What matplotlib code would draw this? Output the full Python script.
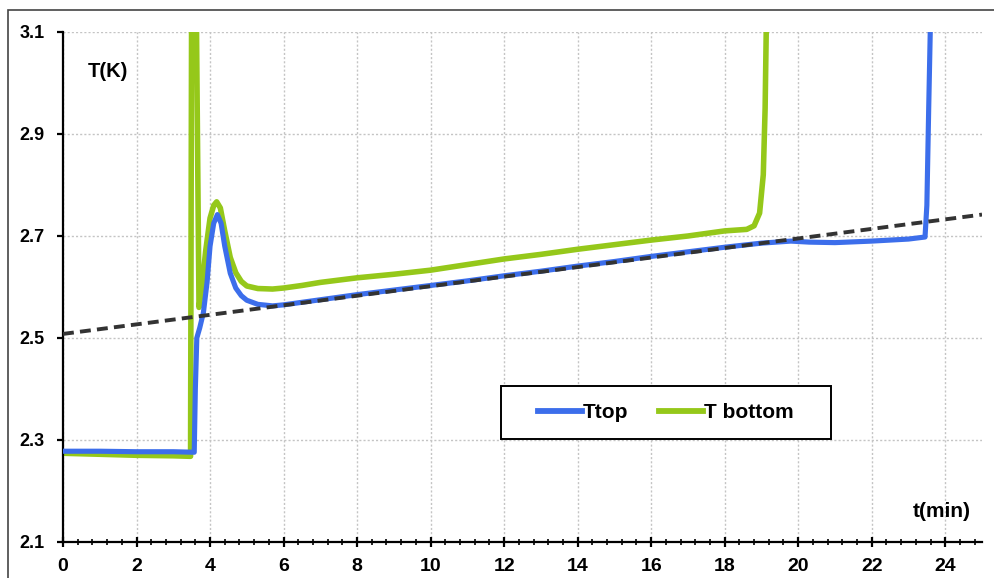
import matplotlib
matplotlib.use("Agg")
import matplotlib.pyplot as plt
from matplotlib.patches import Rectangle
from matplotlib.ticker import MultipleLocator

plt.rcParams['font.family'] = ['Liberation Sans', 'DejaVu Sans']
plt.rcParams['font.weight'] = 'bold'

# Ttop (blue)
t_top = [0, 1, 2, 3, 3.57, 3.60, 3.64, 3.72, 3.82, 3.92, 4.0, 4.1, 4.2, 4.3, 4.4,
         4.55, 4.7, 4.85, 5.0, 5.3, 5.7, 6.0, 7, 8, 9, 10, 11, 12, 13, 14, 15,
         16, 17, 18, 19, 19.8, 20.3, 21, 22, 23, 23.45, 23.5, 23.55, 23.62]
T_top = [2.278, 2.278, 2.277, 2.277, 2.276, 2.40, 2.50, 2.52, 2.55, 2.61, 2.68, 2.725,
         2.742, 2.725, 2.68, 2.627, 2.598, 2.583, 2.574, 2.566, 2.563, 2.565, 2.575,
         2.585, 2.594, 2.603, 2.612, 2.622, 2.631, 2.641, 2.650, 2.660, 2.669, 2.678,
         2.686, 2.690, 2.688, 2.687, 2.690, 2.694, 2.698, 2.76, 2.95, 3.2]

# T bottom (green)
t_bot = [0, 1, 2, 3, 3.47, 3.50, 3.62, 3.70, 3.78, 3.88, 4.0, 4.1, 4.18, 4.28, 4.4,
         4.55, 4.7, 4.85, 5.0, 5.3, 5.7, 6.0, 6.5, 7, 8, 9, 10, 11, 12, 13, 14, 15,
         16, 17, 18, 18.6, 18.8, 18.95, 19.05, 19.1, 19.15]
T_bot = [2.274, 2.272, 2.270, 2.269, 2.268, 3.2, 3.2, 2.56, 2.60, 2.67, 2.735, 2.760,
         2.767, 2.755, 2.71, 2.658, 2.628, 2.611, 2.602, 2.597, 2.596, 2.598, 2.603,
         2.609, 2.618, 2.625, 2.633, 2.644, 2.655, 2.664, 2.674, 2.683, 2.692, 2.700,
         2.710, 2.713, 2.720, 2.745, 2.82, 2.95, 3.2]

# linear fit (dashed)
t_fit = [0, 25]
T_fit = [2.508, 2.742]

x_ticks = [0, 2, 4, 6, 8, 10, 12, 14, 16, 18, 20, 22, 24]
y_ticks = [2.1, 2.3, 2.5, 2.7, 2.9, 3.1]

blue = '#3c6eeb'
green = '#95c81a'

fig = plt.figure(figsize=(9.95, 5.78), dpi=100)
ax = fig.add_axes([63 / 995, 36 / 578, 919 / 995, 510 / 578])

ax.plot(t_bot, T_bot, color=green, lw=4.0, label='T bottom', zorder=2,
        solid_joinstyle='round')
ax.plot(t_top, T_top, color=blue, lw=3.7, label='Ttop', zorder=3,
        solid_joinstyle='round')
ax.plot(t_fit, T_fit, color='#333333', lw=2.8, ls=(0, (2.8, 1.6)), zorder=4)

ax.set_xlim(0, 25)
ax.set_ylim(2.1, 3.1)
ax.set_xticks(x_ticks)
ax.set_yticks(y_ticks)
ax.set_yticklabels([f'{v:.1f}' for v in y_ticks])
ax.xaxis.set_minor_locator(MultipleLocator(0.4))

ax.grid(True, which='major', color='#c4c4c4', ls=(0, (1.5, 1.5)), lw=1.0)
ax.set_axisbelow(True)

for s in ['top', 'right']:
    ax.spines[s].set_visible(False)
for s in ['left', 'bottom']:
    ax.spines[s].set_linewidth(1.6)

ax.tick_params(axis='x', which='major', direction='inout', length=7, width=1.6,
               labelsize=14, pad=8)
ax.tick_params(axis='x', which='minor', direction='inout', length=4, width=1.2)
ax.tick_params(axis='y', which='major', direction='out', length=4, width=1.6,
               labelsize=13, pad=9)

ax.text(0.027, 0.922, 'T(K)', transform=ax.transAxes, fontsize=14.5,
        fontweight='bold', ha='left', va='center')
ax.text(0.988, 0.059, 't(min)', transform=ax.transAxes, fontsize=15,
        fontweight='bold', ha='right', va='center')

# legend box drawn by hand, entries placed inside it
ax.add_patch(Rectangle((0.4766, 0.202), 0.3591, 0.104, transform=ax.transAxes,
                       facecolor='white', edgecolor='black', lw=1.4, zorder=6))
h, l = ax.get_legend_handles_labels()
leg = ax.legend(h[::-1], l[::-1], ncol=2, loc='center',
                bbox_to_anchor=(0.656, 0.254), frameon=False,
                fontsize=15, handlelength=2.1, handletextpad=0.05,
                columnspacing=1.45, borderpad=0, borderaxespad=0)
leg.set_zorder(7)
for line in leg.get_lines():
    line.set_linewidth(4.2)

fig.patches.append(Rectangle((8 / 995, -0.05), 990 / 995, 1.05 - 10 / 578,
                             transform=fig.transFigure, fill=False,
                             edgecolor='#444444', lw=1.2))

fig.savefig('out.png', dpi=100)
